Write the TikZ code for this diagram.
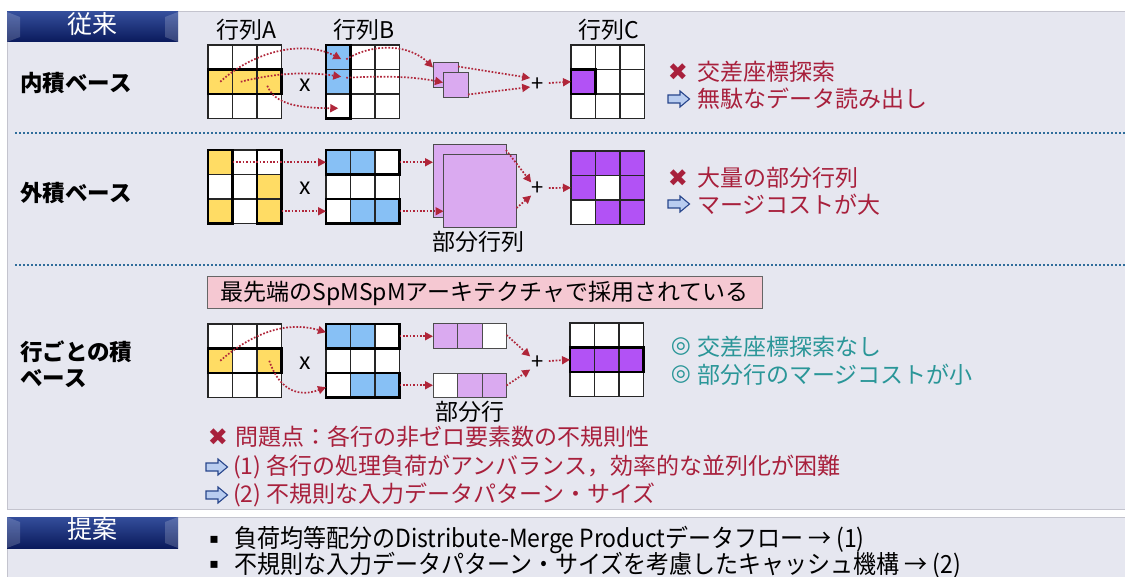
\documentclass[tikz,border=0pt]{standalone}
\usepackage{fontspec}
\usepackage{graphicx}
\setmainfont{Noto Sans CJK JP}
\newfontfamily\djv{DejaVu Sans}
\usetikzlibrary{arrows.meta,calc}
\definecolor{panelbg}{RGB}{230,231,240}
\definecolor{panelline}{RGB}{196,196,206}
\definecolor{yel}{RGB}{255,220,100}
\definecolor{blu}{RGB}{135,192,245}
\definecolor{lav}{RGB}{218,170,240}
\definecolor{pur}{RGB}{178,82,245}
\definecolor{arrred}{RGB}{176,38,58}
\definecolor{txtred}{RGB}{168,32,60}
\definecolor{tealtxt}{RGB}{42,150,152}
\definecolor{sepblue}{RGB}{47,109,155}
\definecolor{navytop}{RGB}{52,78,155}
\definecolor{navybot}{RGB}{10,26,92}
\definecolor{pinkbox}{RGB}{245,200,210}
\definecolor{icofill}{RGB}{185,205,240}
\definecolor{icoline}{RGB}{40,70,140}
\newcommand{\fs}[1]{\fontsize{#1}{#1}\selectfont}
\tikzset{
  cell/.style={draw=black!85, line width=1.1pt, minimum size=24.5pt, inner sep=0pt, outer sep=0pt},
  thickb/.style={draw=black, line width=2.6pt},
  part/.style={draw=black!70, line width=1pt, fill=lav, inner sep=0pt, outer sep=0pt},
  flow/.style={draw=arrred, line width=1.7pt, dash pattern=on 1.7pt off 1.7pt, -{Triangle[length=8pt,width=8pt]}},
  sep/.style={draw=sepblue, line width=2pt, dash pattern=on 2pt off 2pt},
  lbl/.style={font=\fs{23}, inner sep=0pt},
  rowlbl/.style={font=\bfseries\fs{22.5}, anchor=west, inner sep=0pt, align=left},
  redtxt/.style={font=\fs{23}, text=txtred, anchor=west, inner sep=0pt},
  teatxt/.style={font=\fs{23}, text=tealtxt, anchor=west, inner sep=0pt},
  cross/.style={font=\djv\fs{24}, text=txtred, inner sep=0pt},
  tabtxt/.style={font=\fs{25}, text=white, inner sep=0pt},
  plusn/.style={font=\fs{22}, inner sep=0.5pt},
}
\newcommand{\mtx}[4]{%
  \foreach \col [count=\i from 0] in {#4} {
    \pgfmathtruncatemacro\rr{div(\i,3)+1}
    \pgfmathtruncatemacro\cc{mod(\i,3)+1}
    \node[cell, fill=\col] (#1-\rr\cc) at ({#2+12.25+24.5*(\cc-1)},{-(#3+12.25+24.5*(\rr-1))}) {};
  }}
\newcommand{\icon}[2]{\draw[fill=icofill, draw=icoline, line width=1.1pt, line join=miter]
  (#1,#2+4) -- ++(12,0) -- ++(0,4) -- ++(9.5,-8) -- ++(-9.5,-8) -- ++(0,4) -- ++(-12,0) -- cycle;}
\begin{document}
\begin{tikzpicture}[x=1pt,y=1pt]
\useasboundingbox (0,0) rectangle (1125,-577);
\fill[white] (0,0) rectangle (1125,-577);
% panels
\fill[panelbg] (7,-12) rectangle (1125,-509);
\draw[panelline, line width=1pt] (1126,-509) -- (7,-509) -- (7,-12) -- (1126,-12);
\fill[panelbg] (7,-517) rectangle (1125,-577);
\draw[panelline, line width=1pt] (7,-578) -- (7,-517) -- (1126,-517);
% tabs
\shade[top color=navytop, bottom color=navybot] (7,-12) rectangle (178,-42);
\fill[white, opacity=0.18] (7,-12) -- (20,-17) -- (20,-37) -- (7,-42) -- cycle;
\fill[white, opacity=0.18] (178,-12) -- (165,-17) -- (165,-37) -- (178,-42) -- cycle;
\node[tabtxt] (tab1) at (92,-24) {従来};
\shade[top color=navytop, bottom color=navybot] (7,-517) rectangle (178,-548);
\fill[white, opacity=0.18] (7,-517) -- (20,-522) -- (20,-543) -- (7,-548) -- cycle;
\fill[white, opacity=0.18] (178,-517) -- (165,-522) -- (165,-543) -- (178,-548) -- cycle;
\node[tabtxt] (tab2) at (92,-529) {提案};
% separators
\draw[sep] (15,-133) -- (1125,-133);
\draw[sep] (15,-265) -- (1125,-265);
% row labels
\node[rowlbl] (r1) at (20,-83) {内積ベース};
\node[rowlbl] (r2) at (20,-193) {外積ベース};
\node[rowlbl] (r3) at (20,-352) {行ごとの積};
\node[rowlbl] (r3b) at (20,-379) {ベース};
% ===== row 1 =====
\node[lbl] (la) at (246,-30) {行列A};
\node[lbl] (lb) at (364,-30) {行列B};
\node[lbl] (lc) at (609,-30) {行列C};
\mtx{a1}{208}{45}{white,white,white,yel,yel,yel,white,white,white}
\mtx{b1}{326}{45}{blu,white,white,blu,white,white,white,white,white}
\mtx{c1}{571}{45}{white,white,white,pur,white,white,white,white,white}
\draw[thickb] (a1-21.north west) rectangle (a1-23.south east);
\draw[thickb] (b1-11.north west) rectangle (b1-31.south east);
\draw[thickb] (c1-21.north west) rectangle (c1-21.south east);
\node[font=\fs{23}, inner sep=0pt] (m1) at (305,-85) {x};
\node[part, minimum size=25pt] (p1a) at (445.5,-75.5) {};
\node[part, minimum size=25pt] (p1b) at (455.5,-85.5) {};
\node[plusn] (plus1) at (538,-85) {+};
\draw[flow] (a1-21.center) .. controls (255,-50) and (305,-40) .. ($(b1-11.center)+(3,-2)$);
\draw[flow] ($(a1-22.center)+(-4,0)$) .. controls (280,-72) and (310,-72) .. ($(b1-21.center)+(3,5)$);
\draw[flow] ($(a1-23.center)+(-2,-4)$) .. controls (275,-105) and (300,-108) .. ($(b1-31.center)+(0,-2)$);
\draw[flow] ($(b1-11.center)+(8,-2)$) .. controls (375,-42) and (410,-45) .. ($(p1a.west)+(0,8)$);
\draw[flow] ($(b1-21.center)+(8,4)$) .. controls (380,-76) and (410,-76) .. ($(p1b.west)+(0,3)$);
\draw[flow] ($(p1a.east)+(0,9)$) -- ($(plus1.west)+(-1,7)$);
\draw[flow] ($(p1b.east)+(0,-9)$) -- ($(plus1.west)+(-1,-2)$);
\draw[flow] ($(plus1.east)+(4,2)$) -- (c1-21.west);
\node[cross] (x1) at (678,-72) {✖};
\node[redtxt] (t1a) at (697,-72) {交差座標探索};
\icon{668}{-99}
\node[redtxt] (t1b) at (697,-99) {無駄なデータ読み出し};
% ===== row 2 =====
\mtx{a2}{208}{150}{yel,white,white,white,white,yel,yel,white,yel}
\mtx{b2}{326}{150}{blu,blu,white,white,white,white,white,blu,blu}
\mtx{c2}{571}{151}{pur,pur,pur,pur,white,pur,white,pur,pur}
\draw[thickb] (a2-11.north west) rectangle (a2-31.south east);
\draw[thickb] (a2-13.north west) rectangle (a2-33.south east);
\draw[thickb] (b2-11.north west) rectangle (b2-13.south east);
\draw[thickb] (b2-31.north west) rectangle (b2-33.south east);
\node[font=\fs{23}, inner sep=0pt] (m2) at (305,-188) {x};
\node[part, minimum size=73pt] (p2a) at (469.5,-181.5) {};
\node[part, minimum size=73pt] (p2b) at (480,-191) {};
\node[lbl] (pl2) at (478,-242) {部分行列};
\node[plusn] (plus2) at (538,-189) {+};
\draw[flow] (a2-11.east) -- (b2-11.west);
\draw[flow] (a2-33.east) -- (b2-31.west);
\draw[flow] (b2-13.east) -- (b2-13.east -| p2a.west);
\draw[flow] (b2-33.east) -- (b2-33.east -| p2b.west);
\draw[flow] ($(p2a.north east)+(0,-5)$) -- ($(plus2.north west)+(0,-1)$);
\draw[flow] ($(p2b.east)+(0,-17)$) -- ($(plus2.south west)+(0,1)$);
\draw[flow] ($(plus2.east)+(4,1)$) -- (c2-21.west);
\node[cross] (x2) at (678,-178) {✖};
\node[redtxt] (t2a) at (697,-178) {大量の部分行列};
\icon{668}{-204}
\node[redtxt] (t2b) at (697,-205) {マージコストが大};
% ===== row 3 =====
\node[draw=black!60, fill=pinkbox, line width=1pt, minimum width=555pt, minimum height=32pt, inner sep=0pt, font=\fs{23}] (note) at (484.5,-293) {最先端のSpMSpMアーキテクチャで採用されている};
\mtx{a3}{208}{324}{white,white,white,yel,white,yel,white,white,white}
\mtx{b3}{326}{324}{blu,blu,white,white,white,white,white,blu,blu}
\mtx{c3}{570}{323}{white,white,white,pur,pur,pur,white,white,white}
\draw[thickb] (a3-21.north west) rectangle (a3-23.south east);
\draw[thickb] (b3-11.north west) rectangle (b3-13.south east);
\draw[thickb] (b3-31.north west) rectangle (b3-33.south east);
\draw[thickb] (c3-21.north west) rectangle (c3-23.south east);
\node[font=\fs{23}, inner sep=0pt] (m3) at (305,-363) {x};
\foreach \c/\f in {1/lav,2/lav,3/white} {
  \node[part, fill=\f, minimum size=24.5pt] (q1-\c) at ({433+12.25+24.5*(\c-1)},-336) {};
}
\foreach \c/\f in {1/white,2/lav,3/lav} {
  \node[part, fill=\f, minimum size=24.5pt] (q2-\c) at ({433+12.25+24.5*(\c-1)},-385.5) {};
}
\node[lbl] (pl3) at (470,-412) {部分行};
\node[plusn] (plus3) at (538,-363) {+};
\draw[flow] (a3-21.center) .. controls (250,-335) and (285,-320) .. ($(b3-11.west)+(0,4)$);
\draw[flow] (a3-23.center) .. controls (280,-392) and (300,-397) .. ($(b3-31.west)+(0,-2)$);
\draw[flow] (b3-13.east) -- (b3-13.east -| q1-1.west);
\draw[flow] (b3-33.east) -- (b3-33.east -| q2-1.west);
\draw[flow] ($(q1-3.east)+(0,1)$) -- ($(plus3.north west)+(-1,-1)$);
\draw[flow] ($(q2-3.east)+(0,0)$) -- ($(plus3.south west)+(-1,1)$);
\draw[flow] ($(plus3.east)+(4,2)$) -- (c3-21.west);
\node[font=\djv\fs{23}, text=tealtxt, inner sep=0pt] (o1) at (681,-347) {◎};
\node[teatxt] (t3a) at (697,-347) {交差座標探索なし};
\node[font=\djv\fs{23}, text=tealtxt, inner sep=0pt] (o2) at (681,-375) {◎};
\node[teatxt] (t3b) at (697,-375) {部分行のマージコストが小};
% problems
\node[cross] (x4) at (218,-437) {✖};
\node[redtxt] (t4) at (235,-437) {問題点：各行の非ゼロ要素数の不規則性};
\icon{206}{-467}
\node[redtxt] (t5) at (233,-467) {(1) 各行の処理負荷がアンバランス，効率的な並列化が困難};
\icon{206}{-495}
\node[redtxt] (t6) at (233,-495) {(2) 不規則な入力データパターン・サイズ};
% proposal
\node[font=\djv\fs{14}, inner sep=0pt] (bl1) at (214,-540) {▪};
\node[font=\fs{25}, anchor=west, inner sep=0pt] (s1) at (234,-540) {\scalebox{0.92}[1]{負荷均等配分のDistribute-Merge Productデータフロー → (1)}};
\node[font=\djv\fs{14}, inner sep=0pt] (bl2) at (214,-565) {▪};
\node[font=\fs{25}, anchor=west, inner sep=0pt] (s2) at (234,-565) {\scalebox{0.92}[1]{不規則な入力データパターン・サイズを考慮したキャッシュ機構 → (2)}};
\end{tikzpicture}
\end{document}
